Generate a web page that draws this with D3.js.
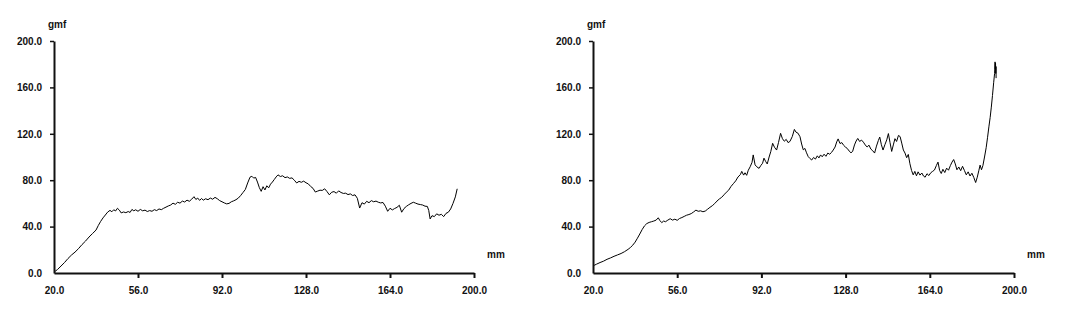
<!DOCTYPE html>
<html>
<head>
<meta charset="utf-8">
<script src="https://cdn.jsdelivr.net/npm/d3@7"></script>
<style>
  body { margin: 0; background: #fff; }
  svg { display: block; }
  .tick text, .unit { font-family: "Liberation Sans", Arial, sans-serif; font-weight: bold; font-size: 10px; fill: #111; }
  .trace { fill: none; stroke: #000; stroke-width: 1; }
</style>
</head>
<body>
<svg id="chart" width="1080" height="325"></svg>
<script>
const xTicks = [20, 56, 92, 128, 164, 200];
const yTicks = [0, 40, 80, 120, 160, 200];

// left sample: [mm, gmf]
const leftTrace = [
  [20.5,1.5],[21.5,3],[23,6],[24.5,9],[26,12.5],[27.5,15.5],[29,18],[30.5,21],[32,24.5],[33.5,27.5],
  [35,31],[36.5,34],[38,37],[39,41],[40,44.5],[41,47.5],[42,50],[43,52.5],[44,54],[44.8,52.8],
  [45.6,54.5],[46.4,53.5],[47.2,55.8],[48,54.2],[48.8,51.8],[49.8,52.6],[50.8,52],[51.8,53],[52.6,52.2],[53.4,54.8],
  [54.2,53.6],[55,54.5],[56,53.2],[57,54.8],[58,53.6],[59,54.2],[60,53],[61,53.8],[62,53.2],[63,54.6],
  [64,53.8],[65,55.2],[66,54.6],[67,55.8],[68,56.8],[69,57.8],[70,58.6],[71,60.2],[72,59.2],[73,61],
  [74,60.2],[75,62],[76,61.2],[77,62.8],[78,61.8],[79,63.6],[80,65.8],[80.8,63.4],[81.6,64.6],[82.4,62.6],
  [83.2,64.2],[84,62.8],[85,64],[86,63.2],[87,64.6],[88,63.6],[89,65.2],[90,64],[91,62.4],[92,61.4],
  [93,60.4],[94,59.6],[95,60],[96,61.4],[97,62.2],[98,63.2],[99,64.6],[100,66.8],[101,69.4],[102,72],
  [103,77.6],[104,82.6],[104.8,83.4],[105.6,81.8],[106.4,82.4],[107.2,78.4],[108,73.6],[108.8,70.4],[109.6,74.4],[110.4,71.6],
  [111.2,75.2],[112,73.4],[112.8,76.6],[113.6,78.4],[114.4,80.6],[115.2,82.8],[116,84.6],[117,83.2],[118,83.8],[119,82.2],
  [120,82.8],[121,81.6],[122,82],[123,80],[124,77.6],[125,79],[126,78.2],[127,79.2],[128,77.8],[129,76.8],
  [130,74.6],[131,73],[132,69.8],[133,70.6],[134,71.4],[135,71.2],[136,72.6],[137,70.2],[138,67.4],[139,69.6],
  [140,70.2],[141,68.8],[142,70.8],[143,69.4],[144,68.6],[145,68.8],[146,67.6],[147,68.2],[148,66.8],[149,67.4],
  [150,64.4],[151,56],[152,60.6],[153,59.4],[154,61.8],[155,60.6],[156,62.4],[157,61.4],[158,62],[159,61],
  [160,60.4],[161,60.8],[162,57.6],[163,53.2],[164,55.8],[165,54.4],[166,55.6],[167,56.6],[168,58.4],[169,52.4],
  [170,55.6],[171,57.4],[172,58.8],[173,60],[174,61],[175,60.2],[176,59.4],[177,59],[178,58.6],[179,57.6],
  [180,57.4],[180.6,54],[181.2,46.6],[182,49.4],[183,48.6],[184,51],[185,49.8],[186,50.6],[187,48.6],[188,51.4],
  [189,52.4],[190,55.2],[191,60],[192,65.6],[192.8,72.6]
];

// right sample: [mm, gmf]
const rightTrace = [
  [20.5,6.6],[21.5,7.6],[23,9],[24.5,10.2],[26,11.8],[27.5,13],[29,14.4],[30.5,15.6],[32,16.8],[33.5,18.4],
  [35,20.4],[36,22],[37,24],[38,26.6],[39,30],[40,33.6],[41,37.4],[42,40.6],[43,42.6],[44,43.6],
  [45,44.2],[46,44.8],[47,45.6],[47.9,47.6],[48.6,45.2],[49.4,43.4],[50.2,44.8],[51,44.2],[52,45.6],[53,46.8],
  [54,45.6],[55,46.4],[56,45.4],[57,47],[58,47.8],[59,48.8],[60,49.8],[61,50.4],[62,51.2],[63,52.6],
  [64,54.2],[65,53.2],[66,53.6],[67,52.8],[68,53.4],[69,55],[70,56.6],[71,58],[72,59.8],[73,62],
  [74,63.8],[75,65.2],[76,67.4],[77,69.6],[78,71.4],[79,74.6],[80,77],[81,79.4],[82,82.8],[83,84.8],
  [83.6,87.6],[84.4,84.4],[85,86.4],[85.7,84.2],[86.4,88.6],[87.2,91.6],[88,95.4],[88.5,101.8],[89.3,93.2],[90,91.6],
  [91,90.2],[91.8,92.8],[92.5,94.6],[93.1,99],[93.8,96.2],[94.5,94],[95.3,100],[96,104.6],[96.8,111.8],[97.6,108.4],
  [98.5,106],[99.3,112.4],[100.2,120.4],[101,115.8],[101.8,113.6],[102.6,115.2],[103.4,112.4],[104.2,113.4],[105.2,117.6],[106.1,123.8],
  [106.8,121.4],[107.6,120.6],[108.5,117.5],[109.2,111.2],[109.9,106.2],[110.6,107.4],[111.3,103.6],[112,100.4],[112.8,98.6],[113.5,97.4],
  [114.3,99.6],[115.1,98.2],[115.9,101],[116.6,99.2],[117.3,101.8],[118,100.2],[118.8,102.4],[119.6,100.6],[120.4,103.4],[121.2,102.4],
  [122,104],[122.7,106],[123.5,108.6],[124.2,113],[124.8,115.6],[125.6,111.6],[126.4,112.4],[127.2,110],[127.9,108.6],[128.7,107.4],
  [129.5,105.2],[130.3,103.6],[131,104.8],[131.8,110.4],[132.5,113.8],[133.2,116],[134,113.4],[134.8,114.6],[135.6,112.8],[136.4,110.4],
  [137.2,108.6],[138,110.2],[138.8,106.8],[139.6,105.4],[140.4,103.4],[141.2,109.4],[142,114.2],[142.6,117.2],[143.3,110.6],[144,106],
  [144.8,110.6],[145.6,114.8],[146.3,120.2],[147,112.4],[147.7,104.8],[148.4,110.4],[149.1,115.8],[149.8,113.4],[150.6,118.6],[151.3,117.6],
  [152,112],[152.7,106],[153.4,103.4],[154.1,99.4],[154.8,102.2],[155.5,94.2],[156.2,88.4],[156.9,84.6],[157.6,87.6],[158.3,83.8],
  [159,87.2],[159.8,84.4],[160.6,86.2],[161.3,83.6],[162,82.6],[162.8,85.6],[163.6,84],[164.4,86.4],[165.2,87.6],[166,88.8],
  [166.8,92.6],[167.5,95.6],[168.2,88.4],[168.9,85.8],[169.6,89.4],[170.4,86.6],[171.2,90.4],[172,88.6],[172.8,92.6],[173.5,95.6],
  [174.2,97.8],[174.9,94],[175.6,89],[176.4,91.4],[177.2,88.2],[178,92],[178.8,88.4],[179.6,84.6],[180.4,87.2],[181.2,83.6],
  [182,86],[182.8,82.4],[183.6,78],[184.3,82.6],[185,88.6],[185.5,93],[186.1,89],[186.7,92.6],[187.4,100],[188.1,108],
  [188.7,117],[189.3,126.6],[189.8,134],[190.3,143],[190.8,153],[191.3,164],[191.7,172],[191.9,182],[192,176],[192.1,181],
  [192.2,172],[192.3,178],[192.35,168]
];

const svg = d3.select("#chart");
const fmt = d3.format(".1f");

function drawChart(left, right, data) {
  const top = 41, bottom = 273;
  const x = d3.scaleLinear().domain([20, 200]).range([left, right]);
  const y = d3.scaleLinear().domain([0, 200]).range([bottom, top]);
  const g = svg.append("g");

  // x axis
  const xa = g.append("g")
    .attr("transform", `translate(0,${bottom})`)
    .call(d3.axisBottom(x).tickValues(xTicks).tickFormat(fmt).tickSize(5).tickSizeOuter(0).tickPadding(9));
  xa.select(".domain").attr("stroke", "#111").attr("stroke-width", 2);
  xa.selectAll(".tick line").attr("stroke", "#111").attr("stroke-width", 2)
    .filter(d => d === 20).remove();

  // y axis
  const ya = g.append("g")
    .attr("transform", `translate(${left},0)`)
    .call(d3.axisLeft(y).tickValues(yTicks).tickFormat(fmt).tickSize(4).tickSizeOuter(0).tickPadding(8));
  ya.select(".domain").attr("stroke", "#111").attr("stroke-width", 2);
  ya.selectAll(".tick line").attr("stroke", "#111").attr("stroke-width", 1.5)
    .filter(d => d === 0).remove();

  g.append("text").attr("class", "unit")
    .attr("x", left - 6).attr("y", top - 13).text("gmf");
  g.append("text").attr("class", "unit")
    .attr("x", right + 13).attr("y", bottom - 15).text("mm");

  const line = d3.line().x(d => x(d[0])).y(d => y(d[1]));
  g.append("path").datum(data).attr("class", "trace").attr("d", line);
}

drawChart(54, 474, leftTrace);
drawChart(593, 1014, rightTrace);
</script>
</body>
</html>
